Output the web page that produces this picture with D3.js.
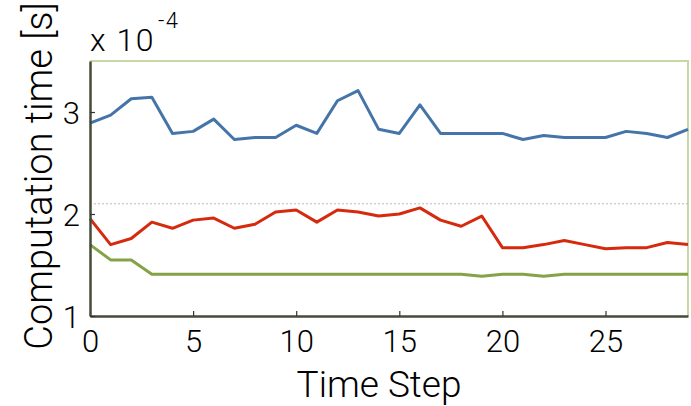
<!DOCTYPE html>
<html>
<head>
<meta charset="utf-8">
<script src="https://cdn.jsdelivr.net/npm/d3@7"></script>
<style>
  body { margin: 0; background: #fff; }
  svg { display: block; }
  text { font-family: Roboto, "Liberation Sans", sans-serif; font-weight: 300; fill: #000; }
</style>
</head>
<body>
<svg id="chart" width="691" height="406"></svg>
<script>
/** time steps */
const steps = d3.range(0, 30);

/** computation time, units of 1e-4 s */
const blueSeries = [2.89, 2.97, 3.13, 3.145, 2.79, 2.81, 2.93, 2.73, 2.75, 2.75,
  2.87, 2.79, 3.11, 3.21, 2.83, 2.79, 3.07, 2.79, 2.79, 2.79,
  2.79, 2.73, 2.77, 2.75, 2.75, 2.75, 2.81, 2.79, 2.75, 2.83];
const redSeries = [1.955, 1.70, 1.76, 1.92, 1.86, 1.94, 1.96, 1.86, 1.90, 2.02,
  2.04, 1.92, 2.04, 2.02, 1.98, 2.00, 2.06, 1.94, 1.88, 1.98,
  1.67, 1.67, 1.70, 1.74, 1.70, 1.66, 1.67, 1.67, 1.72, 1.70];
const greenSeries = [1.70, 1.55, 1.55, 1.41, 1.41, 1.41, 1.41, 1.41, 1.41, 1.41,
  1.41, 1.41, 1.41, 1.41, 1.41, 1.41, 1.41, 1.41, 1.41, 1.39,
  1.41, 1.41, 1.39, 1.41, 1.41, 1.41, 1.41, 1.41, 1.41, 1.41];

/** reference level (dotted) */
const refLevel = 2.1;

const xTicks = [0, 5, 10, 15, 20, 25];
const yTicks = [1, 2, 3];

const series = [
  { data: blueSeries, color: "#4575a8" },
  { data: redSeries, color: "#d62a0e" },
  { data: greenSeries, color: "#86a246" },
];

const svg = d3.select("#chart");
const margin = { left: 90, right: 3, top: 61, bottom: 90 };
const width = 691, height = 406;

/** scales */
const x = d3.scaleLinear().domain([0, 29]).range([margin.left, width - margin.right]);
const y = d3.scaleLinear().domain([1, 3.5]).range([height - margin.bottom, margin.top]);

/** top / right frame (light green) */
svg.append("path")
  .attr("d", `M${x(0)},${y(3.5)}H${x(29)}V${y(1)}`)
  .attr("fill", "none")
  .attr("stroke", "#c7d7a5")
  .attr("stroke-width", 2);

/** dotted reference line */
svg.append("line")
  .attr("x1", x(0)).attr("x2", x(29))
  .attr("y1", y(refLevel)).attr("y2", y(refLevel))
  .attr("stroke", "#b8b8b8")
  .attr("stroke-width", 1)
  .attr("stroke-dasharray", "2 2");

/** data lines */
const line = d3.line()
  .x((d, i) => x(steps[i]))
  .y((d) => y(d));

for (const { data, color } of series)
  svg.append("path")
    .attr("d", line(data))
    .attr("fill", "none")
    .attr("stroke", color)
    .attr("stroke-width", 3)
    .attr("stroke-linejoin", "round");

/** axes, ticks pointing inwards */
const xAxis = d3.axisBottom(x).tickValues(xTicks).tickFormat(d3.format("d"))
  .tickSizeInner(-5).tickSizeOuter(0).tickPadding(14);
const yAxis = d3.axisLeft(y).tickValues(yTicks).tickFormat(d3.format("d"))
  .tickSizeInner(-5).tickSizeOuter(0).tickPadding(10);

const gx = svg.append("g").attr("transform", `translate(0,${y(1)})`).call(xAxis);
const gy = svg.append("g").attr("transform", `translate(${x(0)},0)`).call(yAxis);

for (const g of [gx, gy]) {
  g.select(".domain").attr("stroke", "#454b38").attr("stroke-width", 2.5);
  g.selectAll(".tick line").attr("stroke", "#333").attr("stroke-width", 1.2);
  g.selectAll(".tick text")
    .attr("font-family", "Roboto, 'Liberation Sans', sans-serif")
    .attr("font-weight", 300)
    .attr("font-size", 31)
    .attr("fill", "#000");
}
gx.selectAll(".tick text").attr("dy", "0.71em");
gy.selectAll(".tick text").attr("dy", "0.36em");

/** exponent label */
const expo = svg.append("text")
  .attr("x", x(0))
  .attr("y", 51)
  .attr("font-size", 32)
  .attr("letter-spacing", 1.5);
expo.append("tspan").text("x 10");
expo.append("tspan").text("-4").attr("font-size", 22).attr("dx", 3).attr("dy", -23);

/** axis titles */
svg.append("text")
  .text("Time Step")
  .attr("x", 379)
  .attr("y", 397)
  .attr("text-anchor", "middle")
  .attr("font-size", 37);

svg.append("text")
  .text("Computation time [s]")
  .attr("transform", `translate(52,176) rotate(-90)`)
  .attr("text-anchor", "middle")
  .attr("font-size", 38);
</script>
</body>
</html>
